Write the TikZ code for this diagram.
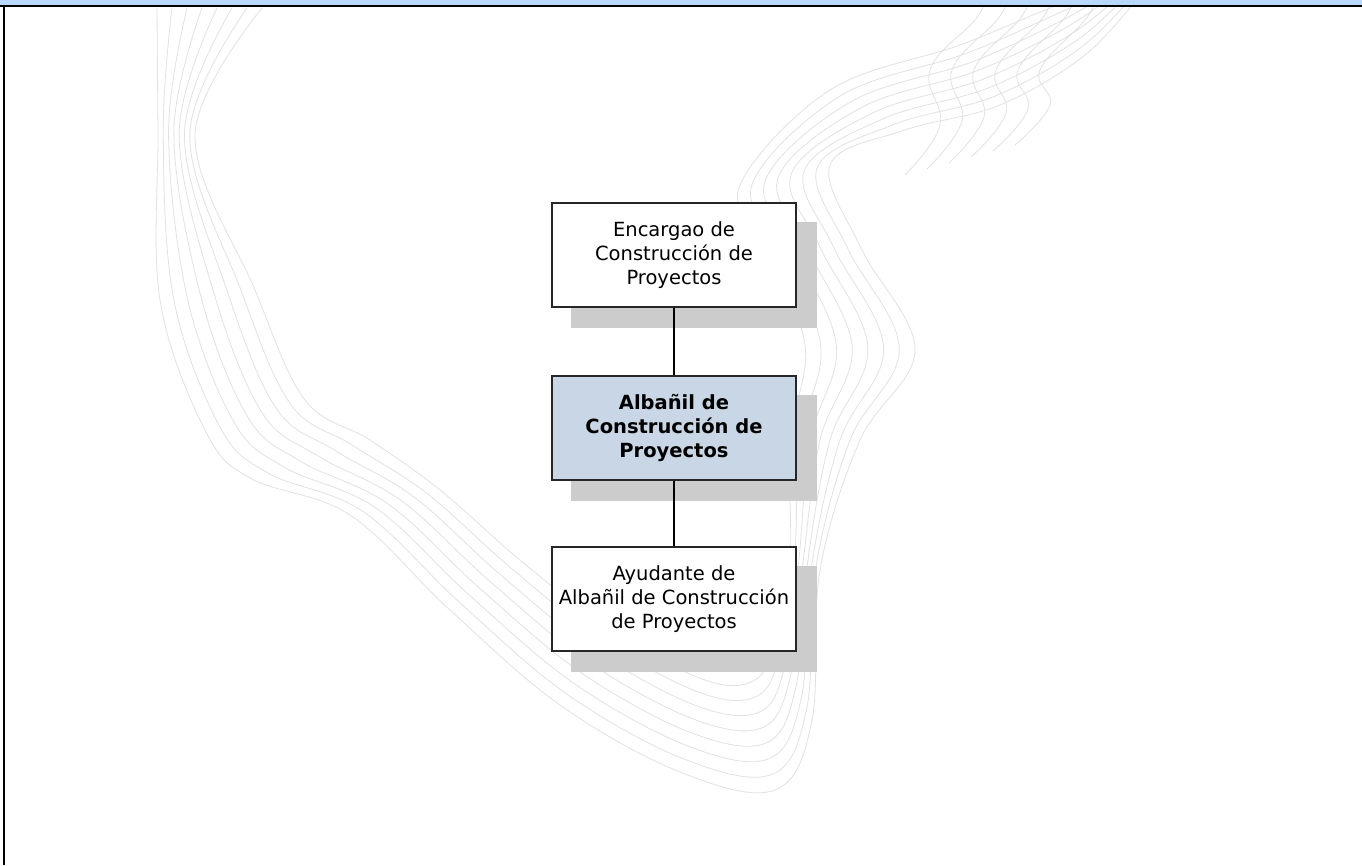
\documentclass[tikz,border=0pt]{standalone}
\usepackage{fontspec}
\usetikzlibrary{calc}
\newfontfamily\boxfont{DejaVu Sans}
\definecolor{topblue}{RGB}{185,216,255}
\definecolor{shadowfill}{RGB}{204,204,204}
\definecolor{rolefill}{RGB}{200,214,229}
\definecolor{wave}{RGB}{226,226,226}
\pgfdeclarelayer{ribbon}
\pgfdeclarelayer{shade}
\pgfsetlayers{ribbon,shade,main}
\tikzset{
  box/.style={draw=black!85, line width=1.1pt, fill=white,
    minimum width=244pt, minimum height=104pt, inner sep=0pt,
    align=center, font=\boxfont\fontsize{19.5}{24}\selectfont},
  rolebox/.style={box, fill=rolefill, font=\boxfont\bfseries\fontsize{19.5}{24}\selectfont},
  conn/.style={draw=black, line width=1.2pt},
  waveline/.style={draw=wave, line width=0.8pt}
}
\begin{document}
\begin{tikzpicture}[x=1pt, y=-1pt]
\useasboundingbox (0,0) rectangle (1362,865);

% chart boxes
\node[box] (enc) at (674,255) {Encargao de\\Construcción de\\Proyectos};
\node[rolebox] (alb) at (674,428) {Albañil de\\Construcción de\\Proyectos};
\node[box] (ayu) at (674,599) {Ayudante de\\Albañil de Construcción\\de Proyectos};

% reporting lines
\draw[conn] (enc.south) -- (alb.north);
\draw[conn] (alb.south) -- (ayu.north);

% shadows behind the boxes
\begin{pgfonlayer}{shade}
\foreach \n in {enc,alb,ayu}{
  \fill[shadowfill] ($(\n.north west)+(20,20)$) rectangle ($(\n.south east)+(20,20)$);
}
\end{pgfonlayer}

% decorative ribbon of thin parallel curves
\begin{pgfonlayer}{ribbon}
\fill[white] (0,0) rectangle (1362,865);
\begin{scope}
\clip (5,7) rectangle (1362,865);
\foreach \i in {0,...,7}{
  \pgfmathsetmacro\t{\i/7}
  \draw[waveline] plot[smooth, tension=0.6] coordinates {
    ({157+105*\t},{8})
    ({158+37*\t},{130+5*\t})
    ({160+95*\t},{300-10*\t})
    ({205+100*\t},{430-30*\t})
    ({250+120*\t},{478-38*\t})
    ({350+90*\t},{515-25*\t})
    ({450+70*\t},{610-50*\t})
    ({560+50*\t},{705-75*\t})
    ({680+25*\t},{772-92*\t})
    ({775-20*\t},{790-110*\t})
    ({812-37*\t},{720-80*\t})
    ({820-30*\t},{570-10*\t})
    ({860-70*\t},{440})
    ({915-110*\t},{350-5*\t})
    ({862-97*\t},{250-5*\t})
    ({830-90*\t},{165+20*\t})
    ({905-75*\t},{130-40*\t})
    ({1000-40*\t},{105-60*\t})
    ({1085-35*\t},{55-47*\t})
    ({1140-40*\t},{-5-5*\t})
  };
}
\foreach \j in {0,...,5}{
  \draw[waveline] plot[smooth, tension=0.7] coordinates {
    ({905+22*\j},{175-6*\j})
    ({940+22*\j},{125-4*\j})
    ({930+22*\j},{70})
    ({975+22*\j},{20})
    ({985+22*\j},{0})
  };
}
\end{scope}
\end{pgfonlayer}

% header strip and frame
\fill[topblue] (0,0) rectangle (1362,5.5);
\draw[line width=2.2pt] (0,6.3) -- (1362,6.3);
\draw[line width=2pt] (3.7,6) -- (3.7,865);
\end{tikzpicture}
\end{document}
